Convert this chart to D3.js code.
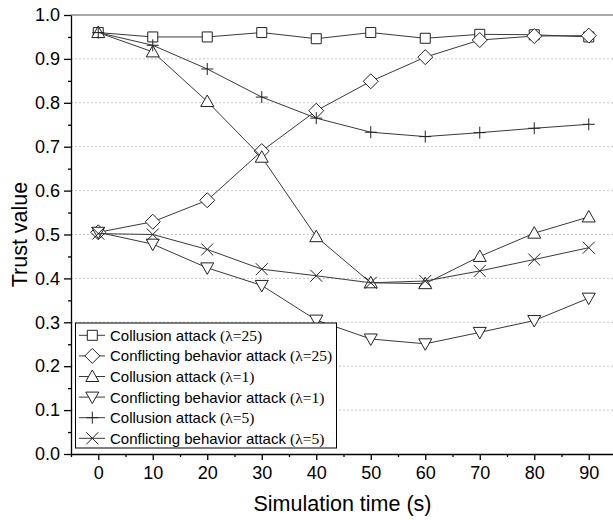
<!DOCTYPE html>
<html>
<head>
<meta charset="utf-8">
<script src="https://cdn.jsdelivr.net/npm/d3@7/dist/d3.min.js"></script>
<style>
  body { margin: 0; background: #fff; }
  text { font-family: "Liberation Sans", Arial, sans-serif; fill: #000; }
</style>
</head>
<body>
<div id="wrapper"></div>
<script>
// simulation times (s)
const times = [0, 10, 20, 30, 40, 50, 60, 70, 80, 90];

// trust values
const collusion25 = [0.960, 0.950, 0.950, 0.960, 0.946, 0.960, 0.947, 0.956, 0.955, 0.950];
const conflicting25 = [0.505, 0.529, 0.578, 0.690, 0.782, 0.849, 0.904, 0.943, 0.952, 0.953];
const collusion1 = [0.960, 0.916, 0.803, 0.676, 0.495, 0.390, 0.388, 0.450, 0.503, 0.540];
const conflicting1 = [0.505, 0.478, 0.424, 0.384, 0.305, 0.262, 0.251, 0.277, 0.304, 0.355];
const collusion5 = [0.960, 0.931, 0.877, 0.813, 0.765, 0.733, 0.723, 0.732, 0.742, 0.751];
const conflicting5 = [0.502, 0.500, 0.466, 0.421, 0.406, 0.390, 0.394, 0.417, 0.443, 0.470];

const seriesNames = [
  "Collusion attack ",
  "Conflicting behavior attack ",
  "Collusion attack ",
  "Conflicting behavior attack ",
  "Collusion attack ",
  "Conflicting behavior attack "
];
const lambdaLabels = ["(λ=25)", "(λ=25)", "(λ=1)", "(λ=1)", "(λ=5)", "(λ=5)"];
const markerKinds = ["square", "diamond", "triangleUp", "triangleDown", "plus", "cross"];

const xTicks = [0, 10, 20, 30, 40, 50, 60, 70, 80, 90];
const xMinorTicks = [-5, 5, 15, 25, 35, 45, 55, 65, 75, 85, 95];
const yTicks = [0, 0.1, 0.2, 0.3, 0.4, 0.5, 0.6, 0.7, 0.8, 0.9, 1.0];
const yMinorTicks = [0.05, 0.15, 0.25, 0.35, 0.45, 0.55, 0.65, 0.75, 0.85, 0.95];
const gridValues = [0.1, 0.2, 0.3, 0.4, 0.5, 0.6, 0.7, 0.8, 0.9];

function drawChart() {
  const allSeries = [collusion25, conflicting25, collusion1, conflicting1, collusion5, conflicting5];

  let dimensions = {
    width: 613,
    height: 520,
    margin: { top: 15, right: -3, bottom: 66, left: 71 }
  };
  dimensions.boundedWidth = dimensions.width - dimensions.margin.left - dimensions.margin.right;
  dimensions.boundedHeight = dimensions.height - dimensions.margin.top - dimensions.margin.bottom;

  const svg = d3.select("#wrapper")
    .append("svg")
    .attr("width", dimensions.width)
    .attr("height", dimensions.height);

  const bounds = svg.append("g")
    .attr("transform", `translate(${dimensions.margin.left},${dimensions.margin.top})`);

  const xScale = d3.scaleLinear()
    .domain([-5, 95])
    .range([0, dimensions.boundedWidth]);

  const yScale = d3.scaleLinear()
    .domain([0, 1])
    .range([dimensions.boundedHeight, 0]);

  // dotted grid
  bounds.append("g")
    .selectAll("line")
    .data(gridValues)
    .join("line")
    .attr("x1", 0)
    .attr("x2", dimensions.boundedWidth)
    .attr("y1", d => yScale(d))
    .attr("y2", d => yScale(d))
    .attr("stroke", "#c8c8c8")
    .attr("stroke-width", 1)
    .attr("stroke-dasharray", "2,2");

  // top frame line
  bounds.append("line")
    .attr("x1", 0)
    .attr("x2", dimensions.boundedWidth)
    .attr("y1", 0)
    .attr("y2", 0)
    .attr("stroke", "#8a8a8a")
    .attr("stroke-width", 1.5);

  // minor ticks
  const xMinor = d3.axisBottom(xScale).tickValues(xMinorTicks).tickSize(3).tickFormat("");
  bounds.append("g")
    .attr("transform", `translate(0,${dimensions.boundedHeight})`)
    .call(xMinor)
    .call(g => g.select(".domain").remove());

  const yMinor = d3.axisLeft(yScale).tickValues(yMinorTicks).tickSize(3).tickFormat("");
  bounds.append("g")
    .call(yMinor)
    .call(g => g.select(".domain").remove());

  // major axes
  const xAxis = d3.axisBottom(xScale)
    .tickValues(xTicks)
    .tickSize(6)
    .tickSizeOuter(0)
    .tickPadding(6)
    .tickFormat(d3.format("d"));
  const xAxisG = bounds.append("g")
    .attr("transform", `translate(0,${dimensions.boundedHeight})`)
    .call(xAxis);
  xAxisG.selectAll("text")
    .style("font-size", "18px")
    .style("font-family", "'Liberation Sans', Arial, sans-serif")
    .attr("fill", "#000");

  const yAxis = d3.axisLeft(yScale)
    .tickValues(yTicks)
    .tickSize(7)
    .tickSizeOuter(0)
    .tickPadding(4)
    .tickFormat(d3.format(".1f"));
  const yAxisG = bounds.append("g").call(yAxis);
  yAxisG.selectAll("text")
    .style("font-size", "18px")
    .style("font-family", "'Liberation Sans', Arial, sans-serif")
    .attr("fill", "#000");

  svg.selectAll(".domain, .tick line")
    .attr("stroke", "#000")
    .attr("stroke-width", 1.3);

  // axis titles
  svg.append("text")
    .attr("x", dimensions.margin.left + xScale(45) - 1)
    .attr("y", 511)
    .attr("text-anchor", "middle")
    .style("font-size", "21.5px")
    .text("Simulation time (s)");

  svg.append("text")
    .attr("transform", `translate(27,${dimensions.margin.top + dimensions.boundedHeight / 2}) rotate(-90)`)
    .attr("text-anchor", "middle")
    .style("font-size", "21.5px")
    .text("Trust value");

  // markers
  function markerPath(kind) {
    switch (kind) {
      case "square": return "M-5,-5H5V5H-5Z";
      case "diamond": return "M0,-7.5L7.5,0L0,7.5L-7.5,0Z";
      case "triangleUp": return "M0,-6.5L6.5,5L-6.5,5Z";
      case "triangleDown": return "M0,6.5L6.5,-5L-6.5,-5Z";
      case "plus": return "M-6,0H6M0,-6V6";
      case "cross": return "M-6,-6L6,6M-6,6L6,-6";
    }
  }

  const lineGen = d3.line()
    .x((d, i) => xScale(times[i]))
    .y(d => yScale(d));

  allSeries.forEach((values, s) => {
    const g = bounds.append("g");
    g.append("path")
      .datum(values)
      .attr("d", lineGen)
      .attr("fill", "none")
      .attr("stroke", "#3a3a3a")
      .attr("stroke-width", 1);

    g.selectAll("path.marker")
      .data(values)
      .join("path")
      .attr("class", "marker")
      .attr("transform", (d, i) => `translate(${xScale(times[i])},${yScale(d)})`)
      .attr("d", markerPath(markerKinds[s]))
      .attr("fill", "#fff")
      .attr("stroke", "#222")
      .attr("stroke-width", 1);
  });

  // legend
  const legend = svg.append("g").attr("transform", "translate(75.5,323)");
  legend.append("rect")
    .attr("width", 261)
    .attr("height", 125)
    .attr("fill", "#fff")
    .attr("stroke", "#000")
    .attr("stroke-width", 1);

  const rows = legend.selectAll("g.row")
    .data(seriesNames)
    .join("g")
    .attr("class", "row")
    .attr("transform", (d, i) => `translate(0,${12.3 + i * 20.6})`);

  rows.append("line")
    .attr("x1", 3.5)
    .attr("x2", 29.5)
    .attr("stroke", "#3a3a3a")
    .attr("stroke-width", 1);

  rows.append("path")
    .attr("transform", "translate(16.8,0)")
    .attr("d", (d, i) => markerPath(markerKinds[i]))
    .attr("fill", "#fff")
    .attr("stroke", "#222")
    .attr("stroke-width", 1);

  const labels = rows.append("text")
    .attr("x", 34.5)
    .attr("dy", "0.36em")
    .style("font-size", "15px");
  labels.append("tspan").text(d => d);
  labels.append("tspan")
    .style("font-family", "'Liberation Serif', 'Times New Roman', serif")
    .style("font-size", "15.5px")
    .text((d, i) => lambdaLabels[i]);
}

drawChart();
</script>
</body>
</html>
